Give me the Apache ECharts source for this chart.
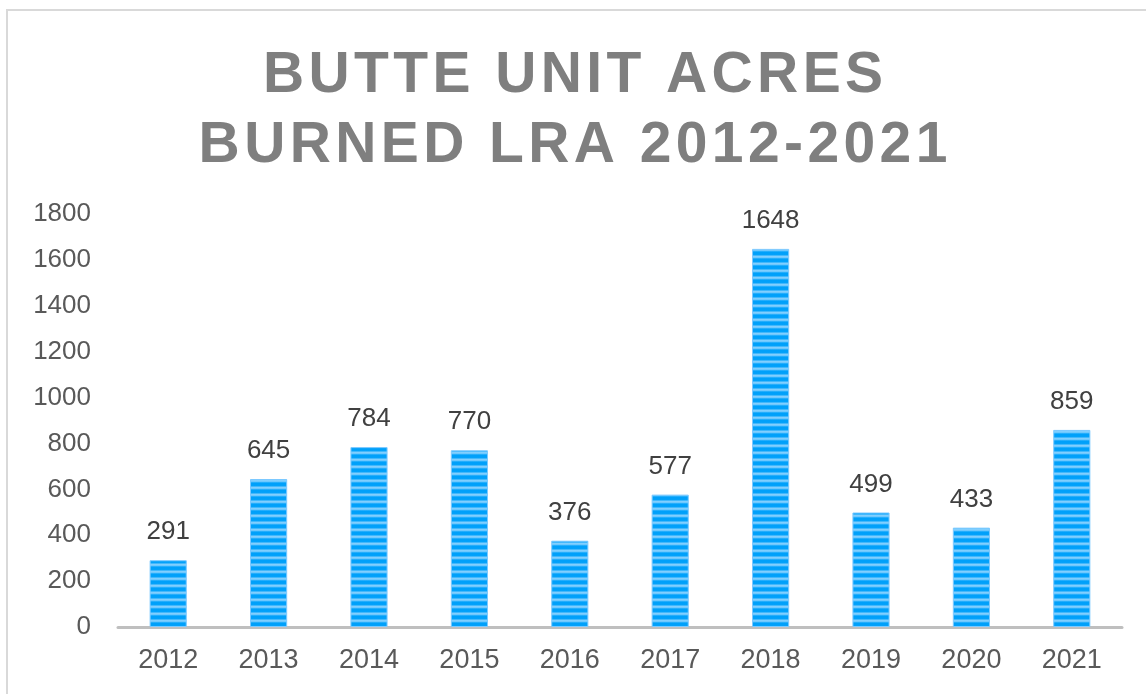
<!DOCTYPE html>
<html>
<head>
<meta charset="utf-8">
<script src="https://cdn.jsdelivr.net/npm/echarts@6/dist/echarts.min.js"></script>
<style>
	html, body { margin: 0; padding: 0; background: #fff; }
	#main { width: 1146px; height: 694px; }
</style>
</head>
<body>
<div id="main"></div>
<script>
var years = ['2012', '2013', '2014', '2015', '2016', '2017', '2018', '2019', '2020', '2021'];
var acres = [291, 645, 784, 770, 376, 577, 1648, 499, 433, 859];
var titleLines = ['BUTTE UNIT ACRES', 'BURNED LRA 2012-2021'];

// striped fill for the bars
function stripes() {
	var c = document.createElement('canvas');
	c.width = 8;
	c.height = 7;
	var ctx = c.getContext('2d');
	var g = ctx.createLinearGradient(0, 0, 0, 7);
	g.addColorStop(0, '#00a0fa');
	g.addColorStop(0.35, '#00a0fa');
	g.addColorStop(0.7, '#9ad8ff');
	g.addColorStop(1, '#00a0fa');
	ctx.fillStyle = g;
	ctx.fillRect(0, 0, 8, 7);
	return c;
}

// spread letters out a bit, each char as its own rich token
function spaced(line) {
	return line.split('').map(function(ch) {
		return '{c|' + ch + '}';
	}).join('');
}

var myChart = echarts.init(document.getElementById('main'));
var option = {
	animation: false,
	title: {
		text: titleLines.map(spaced).join('\n'),
		left: 'center',
		top: 36,
		padding: [5, 0, 5, 18],
		textStyle: {
			rich: {
				c: {
					fontFamily: 'Liberation Sans',
					fontWeight: 'bold',
					fontSize: 57,
					lineHeight: 70,
					color: '#7f7f7f',
					padding: [0, 2.2, 0, 2.2]
				}
			}
		}
	},
	graphic: [{
		type: 'rect',
		shape: { x: 7, y: 10, width: 1300, height: 900 },
		style: { fill: 'none', stroke: '#d9d9d9', lineWidth: 2 },
		silent: true
	}],
	grid: {
		left: 118,
		right: 24,
		top: 214,
		bottom: 67
	},
	xAxis: {
		type: 'category',
		data: years,
		axisLine: { lineStyle: { color: '#bfbfbf', width: 3 } },
		axisTick: { show: false },
		axisLabel: {
			fontFamily: 'Liberation Sans',
			fontSize: 27,
			color: '#595959',
			margin: 20
		}
	},
	yAxis: {
		type: 'value',
		min: 0,
		max: 1800,
		interval: 200,
		splitLine: { show: false },
		axisLabel: {
			fontFamily: 'Liberation Sans',
			fontSize: 26,
			color: '#595959',
			margin: 27,
			formatter: function(v) { return String(v); }
		}
	},
	series: [{
		type: 'bar',
		data: acres,
		barWidth: '37%',
		itemStyle: {
			color: { image: stripes(), repeat: 'repeat' },
			borderColor: '#7cc9ff',
			borderWidth: 1
		},
		label: {
			show: true,
			position: 'top',
			distance: 15,
			fontFamily: 'Liberation Sans',
			fontSize: 26,
			color: '#404040'
		}
	}]
};
myChart.setOption(option);
</script>
</body>
</html>
